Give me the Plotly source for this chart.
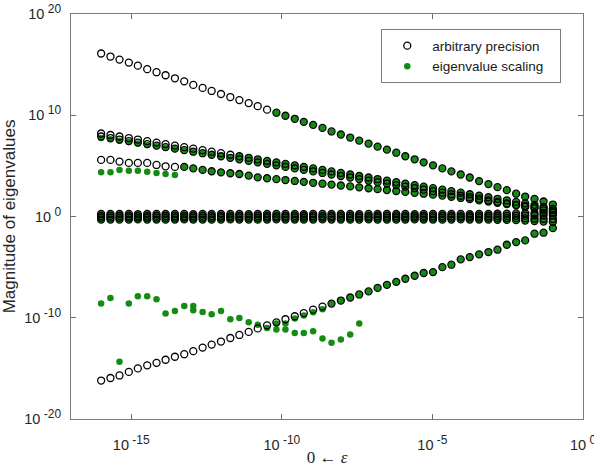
import plotly.graph_objects as go

# x positions: exponents of epsilon (log10)
X_EXP = [-16.00, -15.69, -15.39, -15.08, -14.78, -14.47, -14.16, -13.86, -13.55, -13.24,
         -12.94, -12.63, -12.33, -12.02, -11.71, -11.41, -11.10, -10.80, -10.49, -10.18,
         -9.88, -9.57, -9.27, -8.96, -8.65, -8.35, -8.04, -7.73, -7.43, -7.12,
         -6.82, -6.51, -6.20, -5.90, -5.59, -5.29, -4.98, -4.67, -4.37, -4.06,
         -3.76, -3.45, -3.14, -2.84, -2.53, -2.22, -1.92, -1.61, -1.31, -1.00]

N = None

# ---- arbitrary precision (log10 of eigenvalue magnitudes) ----
AP_TOP = [16.1, 15.8, 15.5, 15.2, 14.9, 14.55, 14.25, 13.95, 13.65, 13.35,
          13.0, 12.7, 12.4, 12.1, 11.8, 11.5, 11.2, 10.9, 10.55, 10.25,
          9.95, 9.65, 9.35, 9.05, 8.75, 8.4, 8.1, 7.8, 7.5, 7.2,
          6.9, 6.6, 6.3, 5.95, 5.65, 5.35, 5.05, 4.75, 4.45, 4.15,
          3.85, 3.5, 3.2, 2.9, 2.6, 2.25, 1.97, 1.74, 1.48, 1.18]
AP_B1 = [8.2, 8.05, 7.9, 7.75, 7.6, 7.45, 7.3, 7.15, 7.0, 6.85,
         6.7, 6.55, 6.4, 6.25, 6.1, 5.95, 5.8, 5.65, 5.5, 5.35,
         5.2, 5.05, 4.9, 4.75, 4.6, 4.45, 4.3, 4.15, 4.0, 3.85,
         3.7, 3.55, 3.4, 3.25, 3.1, 2.95, 2.8, 2.65, 2.5, 2.35,
         2.2, 2.05, 1.9, 1.75, 1.6, 1.45, 1.3, 1.15, 0.95, 0.75]
AP_B2 = [7.9, 7.75, 7.6, 7.45, 7.3, 7.15, 7.0, 6.85, 6.7, 6.55,
         6.4, 6.25, 6.1, 5.95, 5.8, 5.65, 5.5, 5.35, 5.2, 5.05,
         4.9, 4.75, 4.6, 4.45, 4.3, 4.15, 4.0, 3.85, 3.7, 3.55,
         3.4, 3.25, 3.1, 2.95, 2.8, 2.65, 2.5, 2.35, 2.2, 2.05,
         1.9, 1.75, 1.6, 1.45, 1.3, 1.15, 1.05, 0.95, 0.8, 0.6]
AP_C = [5.59, 5.59, 5.42, 5.29, 5.29, 5.29, 5.09, 4.96, 4.9, 4.9,
        4.76, 4.6, 4.47, 4.36, 4.27, 4.2, 4.04, 3.87, 3.78, 3.69,
        3.6, 3.51, 3.42, 3.33, 3.24, 3.15, 3.06, 2.97, 2.88, 2.79,
        2.7, 2.61, 2.52, 2.43, 2.34, 2.25, 2.16, 2.07, 1.95, 1.83,
        1.71, 1.59, 1.47, 1.35, 1.23, 1.1, 0.95, 0.8, 0.6, 0.42]
AP_ONE1 = [0.25, 0.25, 0.26, 0.25, 0.24, 0.25, 0.25, 0.26, 0.25, 0.25,
           0.24, 0.25, 0.25, 0.26, 0.25, 0.25, 0.24, 0.25, 0.25, 0.26,
           0.25, 0.25, 0.24, 0.25, 0.25, 0.26, 0.25, 0.25, 0.24, 0.25,
           0.25, 0.26, 0.25, 0.25, 0.24, 0.25, 0.25, 0.26, 0.25, 0.25,
           0.24, 0.25, 0.26, 0.27, 0.28, 0.3, 0.32, 0.34, 0.36, 0.38]
AP_ONE2 = [0.05, 0.06, 0.05, 0.05, 0.04, 0.05, 0.06, 0.05, 0.05, 0.04,
           0.05, 0.06, 0.05, 0.05, 0.04, 0.05, 0.06, 0.05, 0.05, 0.04,
           0.05, 0.06, 0.05, 0.05, 0.04, 0.05, 0.06, 0.05, 0.05, 0.04,
           0.05, 0.06, 0.05, 0.05, 0.04, 0.05, 0.06, 0.05, 0.05, 0.04,
           0.05, 0.06, 0.05, 0.05, 0.06, 0.07, 0.08, 0.1, 0.12, 0.15]
AP_ONE3 = [-0.12, -0.12, -0.13, -0.12, -0.11, -0.12, -0.12, -0.13, -0.12, -0.11,
           -0.12, -0.12, -0.13, -0.12, -0.11, -0.12, -0.12, -0.13, -0.12, -0.11,
           -0.12, -0.12, -0.13, -0.12, -0.11, -0.12, -0.12, -0.13, -0.12, -0.11,
           -0.12, -0.12, -0.13, -0.12, -0.11, -0.12, -0.12, -0.13, -0.12, -0.11,
           -0.12, -0.12, -0.13, -0.14, -0.15, -0.16, -0.18, -0.2, -0.22, -0.25]
AP_ONE4 = [-0.3, -0.3, -0.31, -0.3, -0.29, -0.3, -0.3, -0.31, -0.3, -0.29,
           -0.3, -0.3, -0.31, -0.3, -0.29, -0.3, -0.3, -0.31, -0.3, -0.29,
           -0.3, -0.3, -0.31, -0.3, -0.29, -0.3, -0.3, -0.31, -0.3, -0.29,
           -0.3, -0.3, -0.31, -0.3, -0.29, -0.3, -0.3, -0.31, -0.3, -0.29,
           -0.3, -0.3, -0.31, -0.32, -0.34, -0.36, -0.4, -0.45, -0.5, -0.55]
AP_EPS = [-16.2, -15.95, -15.7, -15.35, -15.0, -14.7, -14.45, -14.15, -13.85, -13.6,
          -13.3, -12.95, -12.65, -12.35, -12.0, -11.7, -11.4, -11.05, -10.75, -10.45,
          -10.15, -9.85, -9.55, -9.2, -8.9, -8.6, -8.3, -8.0, -7.7, -7.4,
          -7.05, -6.75, -6.45, -6.15, -5.85, -5.58, -5.49, -5.0, -4.76, -4.24,
          -4.01, -3.74, -3.51, -3.28, -2.79, -2.53, -2.36, -1.7, -1.6, -1.15]

# ---- eigenvalue scaling (log10 of eigenvalue magnitudes) ----
ES_TOP = [N, N, N, N, N, N, N, N, N, N,
          N, N, N, N, N, N, N, N, N, 10.25,
          9.95, 9.65, 9.35, 9.05, 8.75, 8.4, 8.1, 7.8, 7.5, 7.2,
          6.9, 6.6, 6.3, 5.95, 5.65, 5.35, 5.05, 4.75, 4.45, 4.15,
          3.85, 3.5, 3.2, 2.9, 2.6, 2.25, 1.97, 1.74, 1.48, 1.18]
ES_B1 = [N, N, N, N, N, N, N, N, N, N,
         N, N, N, N, N, 5.95, 5.8, 5.65, 5.5, 5.35,
         5.2, 5.05, 4.9, 4.75, 4.6, 4.45, 4.3, 4.15, 4.0, 3.85,
         3.7, 3.55, 3.4, 3.25, 3.1, 2.95, 2.8, 2.65, 2.5, 2.35,
         2.2, 2.05, 1.9, 1.75, 1.6, 1.45, 1.3, 1.15, 0.95, 0.75]
ES_B2 = [7.75, 7.62, 7.48, 7.35, 7.2, 7.07, 6.93, 6.8, 6.66, 6.52,
         6.38, 6.24, 6.1, 5.95, 5.8, 5.65, 5.5, 5.35, 5.2, 5.05,
         4.9, 4.75, 4.6, 4.45, 4.3, 4.15, 4.0, 3.85, 3.7, 3.55,
         3.4, 3.25, 3.1, 2.95, 2.8, 2.65, 2.5, 2.35, 2.2, 2.05,
         1.9, 1.75, 1.6, 1.45, 1.3, 1.15, 1.05, 0.95, 0.8, 0.6]
ES_C = [4.36, 4.36, 4.6, 4.53, 4.53, 4.43, 4.3, 4.2, 4.1, 4.9,
        4.76, 4.6, 4.47, 4.36, 4.27, 4.2, 4.04, 3.87, 3.78, 3.69,
        3.6, 3.51, 3.42, 3.33, 3.24, 3.15, 3.06, 2.97, 2.88, 2.79,
        2.7, 2.61, 2.52, 2.43, 2.34, 2.25, 2.16, 2.07, 1.95, 1.83,
        1.71, 1.59, 1.47, 1.35, 1.23, 1.1, 0.95, 0.8, 0.6, 0.42]
ES_EPS = [N, N, N, N, N, N, N, N, N, N,
          -9.26, N, N, N, N, N, N, N, N, -10.57,
          -10.57, -10.07, -9.77, -9.46, -9.15, -8.6, -8.3, -8.0, -7.7, -7.4,
          -7.05, -6.75, -6.45, -6.15, -5.85, -5.58, -5.49, -5.0, -4.76, -4.24,
          -4.01, -3.74, -3.51, -3.28, -2.79, -2.53, -2.36, -1.7, -1.6, -1.15]
ES_SMALL = [-8.6, -8.05, -14.35, -8.6, -7.88, -7.88, -8.18, -9.59, -9.33, -8.84,
            -8.84, -9.43, -9.66, -9.33, -10.15, -10.02, -10.45, -10.7, -11.0, -11.16,
            -11.16, -11.5, -11.5, -11.33, -12.05, -12.48, -12.15, -11.66, -10.57, N,
            N, N, N, N, N, N, N, N, N, N,
            N, N, N, N, N, N, N, N, N, N]

AP_SERIES = [AP_TOP, AP_B1, AP_B2, AP_C, AP_ONE1, AP_ONE2, AP_ONE3, AP_ONE4, AP_EPS]
ES_SERIES = [ES_TOP, ES_B1, ES_B2, ES_C, AP_ONE1, AP_ONE2, AP_ONE3, AP_ONE4, ES_EPS, ES_SMALL]

XT = [1e-15, 1e-10, 1e-5, 1e0]
XT_EXP = ["-15", "-10", "-5", "0"]
YT = [1e-20, 1e-10, 1e0, 1e10, 1e20]
YT_EXP = ["-20", "-10", "0", "10", "20"]


def flatten(series_list):
    xs, ys = [], []
    for s in series_list:
        for xe, ye in zip(X_EXP, s):
            if ye is not None:
                xs.append(10 ** xe)
                ys.append(10 ** ye)
    return xs, ys


def power_label(e):
    return "10<sup><span style='font-size:12px'>\u00a0" + e + "</span></sup>"


gx, gy = flatten(ES_SERIES)
bx, by = flatten(AP_SERIES)

fig = go.Figure()
fig.add_trace(go.Scatter(
    x=gx, y=gy, mode="markers", name="eigenvalue scaling\u00a0\u00a0\u00a0", legendrank=2,
    marker=dict(symbol="circle", size=6.5, color="rgb(20,140,20)", line=dict(width=0)),
))
fig.add_trace(go.Scatter(
    x=bx, y=by, mode="markers", name="arbitrary precision", legendrank=1,
    marker=dict(symbol="circle-open", size=7, color="black", line=dict(width=1.3, color="black")),
))

axis_common = dict(
    type="log", showgrid=False, zeroline=False, ticks="inside", ticklen=5,
    tickcolor="#6e6e6e", linecolor="#7a7a7a", linewidth=1, mirror="ticks",
    tickfont=dict(family="Liberation Sans, Arial, sans-serif", size=14.5, color="#262626"),
    automargin=False, showline=True, ticklabeloverflow="allow",
)

fig.update_xaxes(range=[-17, 0], tickvals=XT, ticktext=[power_label(e) for e in XT_EXP],
                 ticklabelstandoff=13,
                 title=dict(text="0 \u2190 <i>\u03b5</i>", standoff=8,
                            font=dict(family="Liberation Serif, DejaVu Serif, serif", size=17, color="#262626")),
                 **axis_common)
fig.update_yaxes(range=[-20, 20], tickvals=YT, ticktext=[power_label(e) for e in YT_EXP],
                 ticklabelstandoff=6,
                 title=dict(text="Magnitude of eigenvalues", standoff=14,
                            font=dict(family="Liberation Sans, Arial, sans-serif", size=17, color="#262626")),
                 **axis_common)

fig.update_layout(
    width=594, height=467,
    margin=dict(l=71, r=11, t=14, b=48),
    paper_bgcolor="white", plot_bgcolor="white",
    font=dict(family="Liberation Sans, Arial, sans-serif", color="#262626"),
    legend=dict(x=0.606, y=0.962, xanchor="left", yanchor="top",
                bgcolor="white", bordercolor="#7a7a7a", borderwidth=1,
                itemwidth=40,
                font=dict(size=13.5, color="#1a1a1a")),
)

fig.write_html("out.html")
